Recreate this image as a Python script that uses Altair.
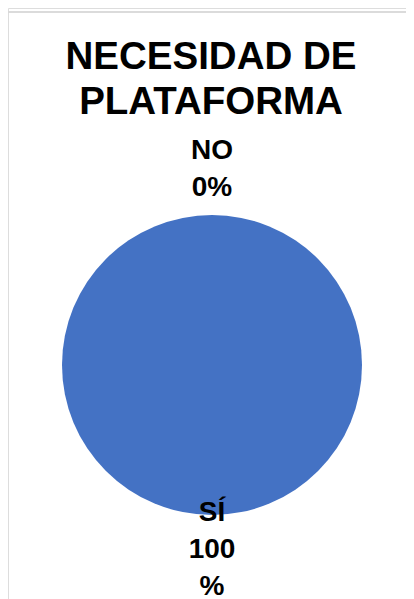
import altair as alt
import pandas as pd

categorias = ["SÍ", "NO"]
porcentajes = [100, 0]
etiquetas = ["SÍ\n100\n%", "NO\n0%"]
colores = ["#4472C4", "#ED7D31"]
titulo = ["NECESIDAD DE", "PLATAFORMA"]

df = pd.DataFrame({
    "categoria": categorias,
    "valor": porcentajes,
    "etiqueta": etiquetas,
    "orden": list(range(len(categorias))),
})

CX, CY, R = 204, 357, 150
FONT = "Liberation Sans"

pie = alt.Chart(df).mark_arc(x=CX, y=CY, radius=R, stroke="white", strokeWidth=0).encode(
    theta=alt.Theta("valor:Q", stack=True),
    order=alt.Order("orden:Q"),
    color=alt.Color("categoria:N", scale=alt.Scale(domain=categorias, range=colores), legend=None),
)

lab_base = (
    alt.Chart(df)
    .transform_joinaggregate(total="sum(valor)")
    .transform_window(acum="sum(valor)", sort=[alt.SortField("orden")], frame=[None, 0])
    .transform_calculate(mid="(datum.acum - datum.valor/2) / datum.total")
)

def label_layer(cat, radius):
    return lab_base.transform_filter(alt.datum.categoria == cat).mark_text(
        x=CX, y=CY, radius=radius, font=FONT, fontWeight="bold", fontSize=28,
        lineBreak="\n", lineHeight=37, baseline="middle", align="center", color="black",
    ).encode(
        theta=alt.Theta("mid:Q", scale=alt.Scale(domain=[0, 1])),
        text="etiqueta:N",
    )

lab_no = label_layer("NO", 214)
lab_si = label_layer("SÍ", 148)

title = alt.Chart(pd.DataFrame({"t": ["\n".join(titulo)]})).mark_text(
    x=203, y=61, font=FONT, fontWeight="bold", fontSize=38.5, lineBreak="\n",
    lineHeight=45, baseline="alphabetic", align="center", color="black",
).encode(text="t:N")

border_left = alt.Chart(df).mark_rule(color="#d9d9d9", strokeWidth=1.5).encode(
    x=alt.value(-1), y=alt.value(4), y2=alt.value(591)
)
border_top = alt.Chart(df).mark_rule(color="#d9d9d9", strokeWidth=1.5).encode(
    x=alt.value(-1), x2=alt.value(398), y=alt.value(4)
)

chart = (
    alt.layer(border_left, border_top, pie, lab_no, lab_si, title)
    .resolve_scale(theta="independent")
    .properties(width=398, height=591, autosize=alt.AutoSizeParams(type="none"), padding=0)
    .configure_view(stroke=None)
    .configure(background="white")
)

chart.save("out.html", embed_options={"renderer": "svg", "actions": False})
